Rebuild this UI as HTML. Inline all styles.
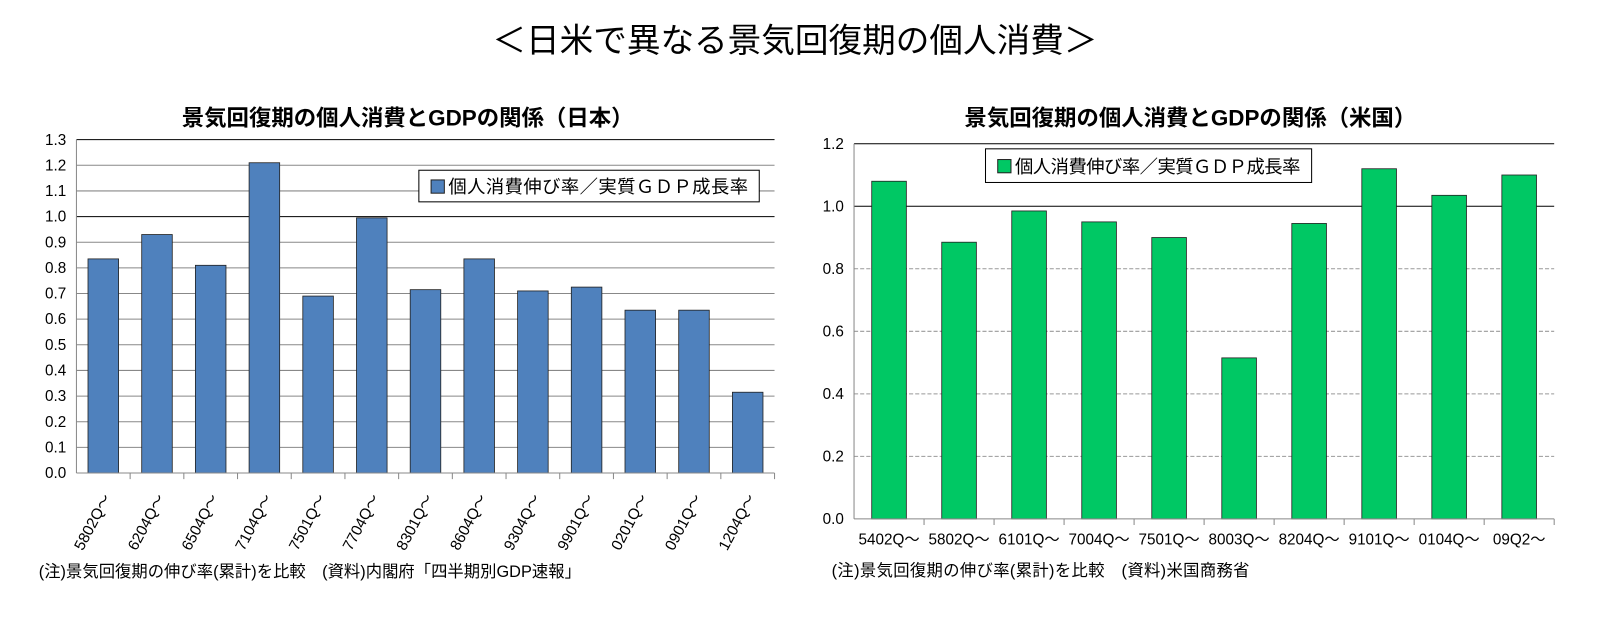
<!DOCTYPE html>
<html><head><meta charset="utf-8">
<style>
body{margin:0;background:#fff;width:1598px;height:630px;overflow:hidden;font-family:"Liberation Sans","Noto Sans CJK JP",sans-serif;}
svg text{font-family:"Liberation Sans","Noto Sans CJK JP",sans-serif;}
</style></head>
<body>
<svg id="s" width="1598" height="630" viewBox="0 0 1568 618" preserveAspectRatio="none">
<text x="780" y="51" font-size="33" text-anchor="middle">＜日米で異なる景気回復期の個人消費＞</text>
<text x="400" y="123" font-size="22" font-weight="bold" text-anchor="middle">景気回復期の個人消費とGDPの関係（日本）</text>
<text x="1168" y="123" font-size="22" font-weight="bold" text-anchor="middle">景気回復期の個人消費とGDPの関係（米国）</text>
<g id="jp"></g>
<g id="us"></g>
<text x="38" y="566" font-size="16" textLength="532">(注)景気回復期の伸び率(累計)を比較　(資料)内閣府「四半期別GDP速報」</text>
<text x="816" y="565" font-size="16" textLength="410">(注)景気回復期の伸び率(累計)を比較　(資料)米国商務省</text>
</svg>
<script>
const jpCategories=["5802Q～","6204Q～","6504Q～","7104Q～","7501Q～","7704Q～","8301Q～","8604Q～","9304Q～","9901Q～","0201Q～","0901Q～","1204Q～"];
const jpValues=[0.835,0.93,0.81,1.21,0.69,0.995,0.715,0.835,0.71,0.725,0.635,0.635,0.315];
const jpTicks=[0,0.1,0.2,0.3,0.4,0.5,0.6,0.7,0.8,0.9,1.0,1.1,1.2,1.3];
const usCategories=["5402Q～","5802Q～","6101Q～","7004Q～","7501Q～","8003Q～","8204Q～","9101Q～","0104Q～","09Q2～"];
const usValues=[1.08,0.885,0.985,0.95,0.90,0.515,0.945,1.12,1.035,1.10];
const usTicks=[0,0.2,0.4,0.6,0.8,1.0,1.2];
const legendLabel="個人消費伸び率／実質ＧＤＰ成長率";
const NS="http://www.w3.org/2000/svg";
function mk(p,t,a){const e=document.createElementNS(NS,t);for(const k in a)e.setAttribute(k,a[k]);p.appendChild(e);return e;}
function draw(g,cfg){
  const {x0,x1,y0,y1,max,cats,vals,ticks,color,barW,dashed,rot,lx,ly,lw,lh}=cfg;
  const Y=v=>y0-(v/max)*(y0-y1);
  const cw=(x1-x0)/cats.length;
  const X=i=>x0+cw*(i+0.5);
  ticks.forEach(t=>{
    if(t>0){const top=(t===ticks[ticks.length-1]);
      const l=mk(g,'line',{x1:x0,x2:x1,y1:Y(t),y2:Y(t),stroke:(t===1||top)?'#000':(dashed?'#999':'#888'),'stroke-width':1});
      if(dashed&&t!==1&&!top)l.setAttribute('stroke-dasharray','4,2');
      }
    const tx=mk(g,'text',{x:x0-10,y:Y(t)+5,'font-size':15,'text-anchor':'end'});tx.textContent=t.toFixed(1);
    
  });
  vals.forEach((v,i)=>{
    const r=mk(g,'rect',{x:X(i)-barW/2,y:Y(v),width:barW,height:Y(0)-Y(v),fill:color,stroke:'#222','stroke-width':0.8});
    
    mk(g,'line',{x1:x0+cw*(i+1),x2:x0+cw*(i+1),y1:y0,y2:y0+6,stroke:'#888'});
    let tx;
    if(rot){tx=mk(g,'text',{x:X(i)+8,y:y0+24,'font-size':15,'text-anchor':'end',transform:`rotate(-62 ${X(i)+8} ${y0+24})`});}
    else{tx=mk(g,'text',{x:X(i),y:y0+25,'font-size':15,'text-anchor':'middle'});}
    tx.textContent=cats[i];
    
  });
  const ax=mk(g,'line',{x1:x0,x2:x0,y1:y1,y2:y0,stroke:'#888'});
  const bx=mk(g,'line',{x1:x0,x2:x1,y1:y0,y2:y0,stroke:'#888'});
  const lg=mk(g,'g',{});
  mk(lg,'rect',{x:lx,y:ly,width:lw,height:lh,fill:'#fff',stroke:'#000'});
  mk(lg,'rect',{x:lx+12,y:ly+lh/2-6,width:13,height:13,fill:color,stroke:'#222'});
  const lt=mk(lg,'text',{x:lx+29,y:ly+lh/2+7,'font-size':18,textLength:lw-40});lt.textContent=legendLabel;
}
draw(document.getElementById('jp'),{x0:75,x1:760,y0:464,y1:137,max:1.3,cats:jpCategories,vals:jpValues,ticks:jpTicks,color:'#4f81bd',barW:30,dashed:false,rot:true,lx:411,ly:167,lw:334,lh:31});
draw(document.getElementById('us'),{x0:838,x1:1525,y0:509,y1:141,max:1.2,cats:usCategories,vals:usValues,ticks:usTicks,color:'#00c864',barW:34,dashed:true,rot:false,lx:967,ly:146,lw:320,lh:33});
</script>
</body></html>
